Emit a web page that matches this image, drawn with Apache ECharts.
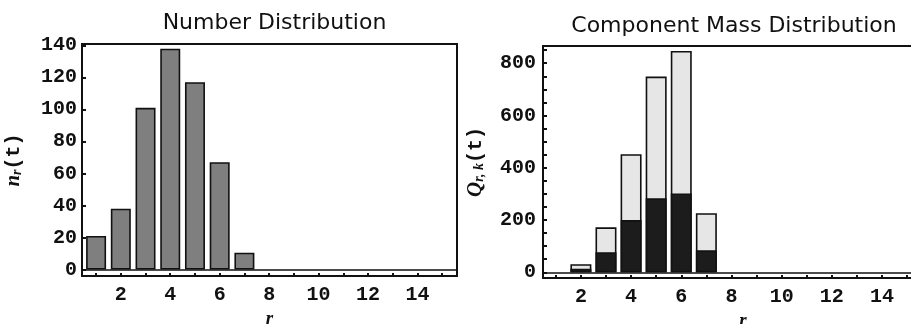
<!DOCTYPE html>
<html>
<head>
<meta charset="utf-8">
<script src="https://cdn.jsdelivr.net/npm/echarts@6/dist/echarts.min.js"></script>
<style>
html,body{margin:0;padding:0;background:#fff;}
#c{width:911px;height:324px;}
</style>
</head>
<body>
<div id="c"></div>
<script>
// ---- data ----
var r = [1, 2, 3, 4, 5, 6, 7];
var numberDist = [21, 38, 101, 138, 117, 67, 10.5];

var rMass = [2, 3, 4, 5, 6, 7];
var massTotal = [31, 172, 452, 749, 847, 226];
var massDark  = [14, 77, 200, 283, 302, 84];

var xTickLabels = [2, 4, 6, 8, 10, 12, 14];
var xTicks = [1, 2, 3, 4, 5, 6, 7, 8, 9, 10, 11, 12, 13, 14, 15, 16];
var yTicksLeft = [0, 20, 40, 60, 80, 100, 120, 140];
var yLabelsRight = [0, 200, 400, 600, 800];
var yTicksRight = [0, 50, 100, 150, 200, 250, 300, 350, 400, 450, 500, 550, 600, 650, 700, 750, 800, 850];

function pairs(xs, ys) { return xs.map(function (x, i) { return [x, ys[i]]; }); }

var tickFont = 'Liberation Mono';
var labelStyle = { color: '#111', fontFamily: tickFont, fontSize: 20, fontWeight: 'bold' };

function xAxisCfg(idx, min, max) {
  return {
    gridIndex: idx, type: 'value', min: min, max: max,
    name: 'r', nameLocation: 'middle', nameGap: 23,
    nameTextStyle: { fontFamily: 'Liberation Serif', fontStyle: 'italic', fontWeight: 'bold', fontSize: 19, color: '#111' },
    axisLine: { show: true, onZero: false, lineStyle: { color: '#111', width: 2 } },
    axisTick: { show: true, inside: true, length: 3, customValues: xTicks, lineStyle: { color: '#111', width: 2 } },
    axisLabel: Object.assign({ customValues: xTickLabels, margin: 9 }, labelStyle),
    splitLine: { show: false }
  };
}

var zeroLine = {
  silent: true, symbol: 'none',
  label: { show: false },
  lineStyle: { color: '#111', width: 1.5, type: 'solid' },
  data: [{ yAxis: 0 }]
};

function yName(main, sub) {
  return {
    text: '{i|' + main + '}{s|' + sub + '}{p|(t)}',
    rich: {
      i: { fontFamily: 'Liberation Serif', fontStyle: 'italic', fontWeight: 'bold', fontSize: 21, color: '#111' },
      s: { fontFamily: 'Liberation Serif', fontStyle: 'italic', fontWeight: 'bold', fontSize: 14, color: '#111', verticalAlign: 'bottom', padding: [7, 0, 0, 0] },
      p: { fontFamily: 'Liberation Mono', fontWeight: 'bold', fontSize: 20, color: '#111' }
    }
  };
}
var nLeft = yName('n', 'r');
var nRight = yName('Q', 'r, k');

var option = {
  animation: false,
  backgroundColor: '#fff',
  title: [
    { text: 'Number Distribution', left: 269.5, top: 7, textAlign: 'center',
      textStyle: { fontFamily: 'DejaVu Sans', fontWeight: 'normal', fontSize: 22, color: '#111' } },
    { text: 'Component Mass Distribution', left: 729, top: 10, textAlign: 'center',
      textStyle: { fontFamily: 'DejaVu Sans', fontWeight: 'normal', fontSize: 22, color: '#111' } }
  ],
  grid: [
    { left: 82, top: 44, width: 375, height: 232, outerBoundsMode: 'none', containLabel: false,
      show: true, borderColor: '#111', borderWidth: 2, backgroundColor: 'transparent' },
    { left: 543, top: 46, width: 400, height: 232, outerBoundsMode: 'none', containLabel: false,
      show: false }
  ],
  xAxis: [
    xAxisCfg(0, 0.43, 15.6),
    xAxisCfg(1, 0.49, 16.43),
    { gridIndex: 1, type: 'value', position: 'top', min: 0.49, max: 16.43,
      axisLine: { show: true, onZero: false, lineStyle: { color: '#111', width: 2 } },
      axisTick: { show: false }, axisLabel: { show: false }, splitLine: { show: false } }
  ],
  yAxis: [
    {
      gridIndex: 0, type: 'value', min: -4.06, max: 140.9,
      name: nLeft.text, nameLocation: 'middle', nameGap: 58, nameRotate: 90,
      nameTextStyle: { rich: nLeft.rich },
      axisLine: { show: true, lineStyle: { color: '#111', width: 2 } },
      axisTick: { show: true, inside: true, length: 4, customValues: yTicksLeft, lineStyle: { color: '#111', width: 2 } },
      axisLabel: Object.assign({ customValues: yTicksLeft, margin: 5 }, labelStyle),
      splitLine: { show: false }
    },
    {
      gridIndex: 1, type: 'value', min: -21.8, max: 866,
      name: nRight.text, nameLocation: 'middle', nameGap: 57, nameRotate: 90,
      nameTextStyle: { rich: nRight.rich },
      axisLine: { show: true, onZero: false, lineStyle: { color: '#111', width: 2 } },
      axisTick: { show: true, inside: true, length: 4, customValues: yTicksRight, lineStyle: { color: '#111', width: 2 } },
      axisLabel: Object.assign({ customValues: yLabelsRight, margin: 7 }, labelStyle),
      splitLine: { show: false }
    }
  ],
  series: [
    {
      type: 'bar', xAxisIndex: 0, yAxisIndex: 0, barWidth: 20,
      data: pairs(r, numberDist),
      itemStyle: { color: '#7f7f7f', borderColor: '#111', borderWidth: 1.6 },
      markLine: zeroLine
    },
    {
      type: 'bar', xAxisIndex: 1, yAxisIndex: 1, barWidth: 21, barGap: '-100%',
      data: pairs(rMass, massTotal),
      itemStyle: { color: '#e6e6e6', borderColor: '#111', borderWidth: 1.6 },
      markLine: zeroLine
    },
    {
      type: 'bar', xAxisIndex: 1, yAxisIndex: 1, barWidth: 21, barGap: '-100%',
      data: pairs(rMass, massDark),
      itemStyle: { color: '#1c1c1c', borderColor: '#111', borderWidth: 1.6 }
    }
  ]
};

var chart = echarts.init(document.getElementById('c'), null, { renderer: 'canvas' });
chart.setOption(option);
</script>
</body>
</html>
